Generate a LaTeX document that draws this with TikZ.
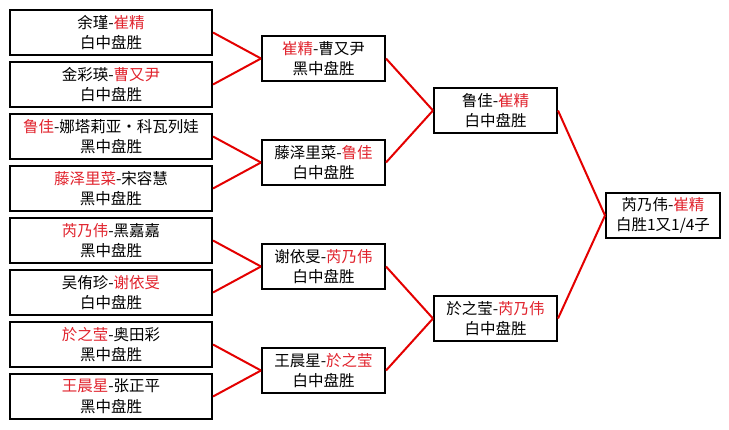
\documentclass[tikz,border=0pt]{standalone}
\usepackage{fontspec}
\setmainfont{Noto Sans CJK SC}
\definecolor{wred}{RGB}{225,35,45}
\definecolor{lred}{RGB}{228,0,0}
\newcommand{\rn}[1]{\textcolor{wred}{#1}}
\begin{document}
\begin{tikzpicture}[x=1pt,y=-1pt,
  box/.style={draw=black, line width=2pt, fill=white, rectangle, align=center,
    inner sep=0pt, minimum height=45pt, font=\fontsize{15.5}{20.5}\selectfont},
  lbox/.style={box, minimum width=202pt},
  mbox/.style={box, minimum width=123pt},
  fbox/.style={box, minimum width=114pt},
  link/.style={draw=lred, line width=2pt}]
\useasboundingbox[fill=white] (0,0) rectangle (729,429);
% first round
\node[lbox] (a1) at (111,32.5) {余瑾-\rn{崔精}\\白中盘胜};
\node[lbox] (a2) at (111,84.5) {金彩瑛-\rn{曹又尹}\\白中盘胜};
\node[lbox] (a3) at (111,136.5) {\rn{鲁佳}-娜塔莉亚・科瓦列娃\\黑中盘胜};
\node[lbox] (a4) at (111,188.5) {\rn{藤泽里菜}-宋容慧\\黑中盘胜};
\node[lbox] (a5) at (111,240.5) {\rn{芮乃伟}-黑嘉嘉\\黑中盘胜};
\node[lbox] (a6) at (111,292.5) {吴侑珍-\rn{谢依旻}\\白中盘胜};
\node[lbox] (a7) at (111,344.5) {\rn{於之莹}-奥田彩\\黑中盘胜};
\node[lbox] (a8) at (111,396.5) {\rn{王晨星}-张正平\\黑中盘胜};
% second round
\node[mbox] (b1) at (323.5,58.5) {\rn{崔精}-曹又尹\\黑中盘胜};
\node[mbox] (b2) at (323.5,162.5) {藤泽里菜-\rn{鲁佳}\\白中盘胜};
\node[mbox] (b3) at (323.5,266.5) {谢依旻-\rn{芮乃伟}\\白中盘胜};
\node[mbox] (b4) at (323.5,370.5) {王晨星-\rn{於之莹}\\白中盘胜};
% semifinal
\node[mbox] (c1) at (495.5,110.5) {鲁佳-\rn{崔精}\\白中盘胜};
\node[mbox] (c2) at (495.5,318.5) {於之莹-\rn{芮乃伟}\\白中盘胜};
% final
\node[fbox] (d1) at (663,215.5) {芮乃伟-\rn{崔精}\\白胜1又1/4子};
% connectors
\draw[link] (a1.east) -- (b1.west);
\draw[link] (a2.east) -- (b1.west);
\draw[link] (a3.east) -- (b2.west);
\draw[link] (a4.east) -- (b2.west);
\draw[link] (a5.east) -- (b3.west);
\draw[link] (a6.east) -- (b3.west);
\draw[link] (a7.east) -- (b4.west);
\draw[link] (a8.east) -- (b4.west);
\draw[link] (b1.east) -- (c1.west);
\draw[link] (b2.east) -- (c1.west);
\draw[link] (b3.east) -- (c2.west);
\draw[link] (b4.east) -- (c2.west);
\draw[link] (c1.east) -- (d1.west);
\draw[link] (c2.east) -- (d1.west);
\end{tikzpicture}
\end{document}
